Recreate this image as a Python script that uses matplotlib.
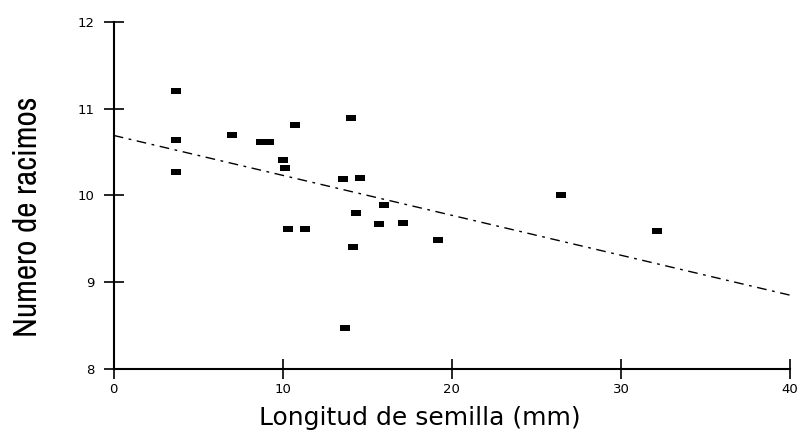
import matplotlib
matplotlib.use("Agg")
import matplotlib.pyplot as plt
import numpy as np

# Data
seed_length = [3.7, 3.7, 3.7, 7.0, 8.7, 9.2, 10.75, 10.0, 10.15, 14.05, 13.55, 14.55,
               16.0, 14.35, 15.7, 17.1, 19.2, 10.3, 11.3, 14.15, 13.65, 26.45, 32.15]
clusters = [11.2, 10.64, 10.27, 10.70, 10.61, 10.61, 10.81, 10.41, 10.31, 10.89, 10.19, 10.20,
            9.89, 9.80, 9.67, 9.68, 9.48, 9.61, 9.61, 9.40, 8.47, 10.0, 9.59]
fit_x = [0, 40]
fit_y = [10.69, 8.85]

x_ticks = [0, 10, 20, 30, 40]
y_ticks = [8, 9, 10, 11, 12]

fig = plt.figure(figsize=(8.03, 4.30), dpi=100)
ax = fig.add_axes([0.1416, 0.1419, 0.8423, 0.8076])

rect = [(-1, -0.6), (1, -0.6), (1, 0.6), (-1, 0.6), (-1, -0.6)]
ax.plot(seed_length, clusters, linestyle='none', marker=rect, markersize=7,
        color='black', markeredgewidth=0)
ax.plot(fit_x, fit_y, color='black', linewidth=1.0, linestyle=(0, (7, 4, 2, 4)))

ax.set_xlim(0, 40)
ax.set_ylim(8, 12)
ax.set_xticks(x_ticks)
ax.set_yticks(y_ticks)
for s in ['top', 'right']:
    ax.spines[s].set_visible(False)
for s in ['left', 'bottom']:
    ax.spines[s].set_linewidth(1.5)
    ax.spines[s].set_color('black')
ax.tick_params(axis='both', direction='inout', length=14, width=1.2,
               labelsize=9.5, colors='black')
ax.tick_params(axis='y', pad=7)
ax.tick_params(axis='x', pad=3)

ax.set_xlabel('Longitud de semilla (mm)', fontsize=18, family='DejaVu Sans')
ax.xaxis.set_label_coords(0.453, -0.106)
ax.set_ylabel('Numero de racimos', fontsize=24,
              family=['Archivo Narrow', 'Liberation Sans', 'DejaVu Sans'])
ax.yaxis.set_label_coords(-0.105, 0.438)

fig.savefig('out.png', dpi=100)
